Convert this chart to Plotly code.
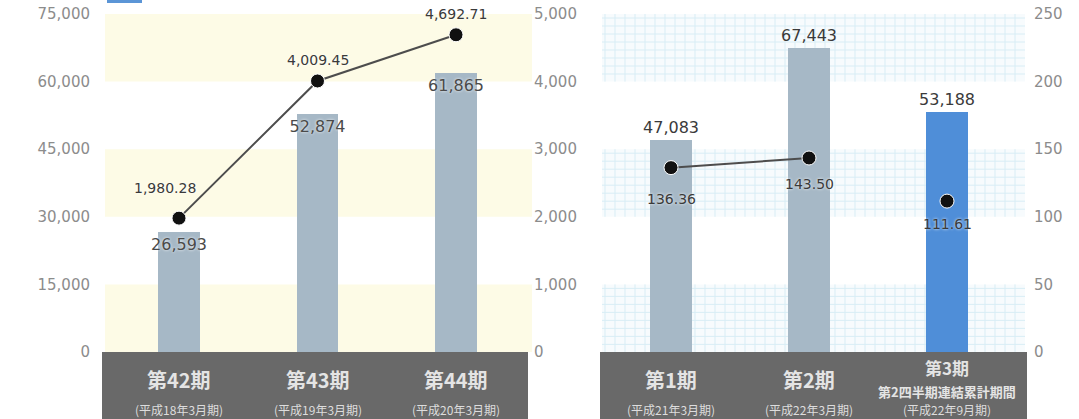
import plotly.graph_objects as go

# ---------------- data ----------------
left_periods = ["第42期", "第43期", "第44期"]
left_sub = ["(平成18年3月期)", "(平成19年3月期)", "(平成20年3月期)"]
left_bars = [26593, 52874, 61865]
left_line = [1980.28, 4009.45, 4692.71]

right_periods = ["第1期", "第2期", "第3期"]
right_mid = ["", "", "第2四半期連結累計期間"]
right_sub = ["(平成21年3月期)", "(平成22年3月期)", "(平成22年9月期)"]
right_bars = [47083, 67443, 53188]
right_line = [136.36, 143.50, 111.61]

bar_ticks = [0, 15000, 30000, 45000, 60000, 75000]
left_line_ticks = [0, 1000, 2000, 3000, 4000, 5000]
right_line_ticks = [0, 50, 100, 150, 200, 250]

# ---------------- layout helpers ----------------
W, H = 1079, 419
def PX(p):
    return p / W
def PY(p):
    return (H - p) / H

Y_BOTTOM, Y_TOP = 352, 14
ydom = [PY(Y_BOTTOM), PY(Y_TOP)]
L_DOM = [103, 530]
R_DOM = [600, 1027]
L_C0, L_STEP = 179, 138.5
R_C0, R_STEP = 671, 138.0

BAR_COLOR = "#a6b8c6"
BLUE = "#4f8ed8"
TICK_FONT = dict(family="DejaVu Sans, sans-serif", size=15, color="#8c8c8c")
NUM_FONT = "DejaVu Sans, sans-serif"
CJK = "Noto Sans CJK JP, sans-serif"
HALO = "0px 0px 3px #ffffff"

xl = list(range(3))

fig = go.Figure()

# left chart bars
fig.add_trace(go.Bar(
    x=xl, y=left_bars, xaxis="x", yaxis="y",
    marker=dict(color=BAR_COLOR, line=dict(width=0)), width=0.30,
    texttemplate="%{y:,}", textposition="inside", insidetextanchor="end",
    constraintext="none", textangle=0,
    textfont=dict(family=NUM_FONT, size=16, color="#4a4a4a", shadow=HALO),
    showlegend=False, hoverinfo="skip"))

# left chart line
fig.add_trace(go.Scatter(
    x=xl, y=left_line, xaxis="x", yaxis="y2", mode="lines+markers",
    line=dict(color="#4d4d4d", width=2),
    marker=dict(color="#111111", size=14, line=dict(color="#ffffff", width=1)),
    showlegend=False, hoverinfo="skip"))

# right chart bars
fig.add_trace(go.Bar(
    x=xl, y=right_bars, xaxis="x2", yaxis="y3",
    marker=dict(color=[BAR_COLOR, BAR_COLOR, BLUE], line=dict(width=0)), width=0.30,
    texttemplate="%{y:,}", textposition="outside", constraintext="none", textangle=0,
    cliponaxis=False,
    textfont=dict(family=NUM_FONT, size=16, color="#3a3a3a"),
    showlegend=False, hoverinfo="skip"))

# right chart line (first two connected, third standalone)
fig.add_trace(go.Scatter(
    x=xl[:2], y=right_line[:2], xaxis="x2", yaxis="y4", mode="lines+markers",
    line=dict(color="#4d4d4d", width=2),
    marker=dict(color="#111111", size=14, line=dict(color="#ffffff", width=1)),
    showlegend=False, hoverinfo="skip"))
fig.add_trace(go.Scatter(
    x=xl[2:], y=right_line[2:], xaxis="x2", yaxis="y4", mode="markers",
    marker=dict(color="#111111", size=14, line=dict(color="#ffffff", width=1)),
    showlegend=False, hoverinfo="skip"))

shapes = []
# left background bands (pale yellow alternating)
for i in range(0, 5, 2):
    shapes.append(dict(type="rect", xref="paper", yref="y",
                       x0=PX(105), x1=PX(532), y0=bar_ticks[i], y1=bar_ticks[i + 1],
                       fillcolor="#fdfbe6", line=dict(width=0), layer="below"))
# right background grid bands
for i in range(0, 5, 2):
    y0, y1 = bar_ticks[i], bar_ticks[i + 1]
    p_y0 = Y_BOTTOM - (y0 / 75000) * (Y_BOTTOM - Y_TOP)
    p_y1 = Y_BOTTOM - (y1 / 75000) * (Y_BOTTOM - Y_TOP)
    shapes.append(dict(type="rect", xref="paper", yref="paper",
                       x0=PX(602), x1=PX(1025), y0=PY(p_y0), y1=PY(p_y1),
                       fillcolor="#f7fbfd", line=dict(width=0), layer="below"))
    path = ""
    xx = 605
    while xx <= 1024:
        path += f"M{PX(xx):.5f},{PY(p_y0):.5f} L{PX(xx):.5f},{PY(p_y1):.5f} "
        xx += 10
    yy = p_y1 + 4
    while yy < p_y0:
        path += f"M{PX(602):.5f},{PY(yy):.5f} L{PX(1025):.5f},{PY(yy):.5f} "
        yy += 8
    shapes.append(dict(type="path", xref="paper", yref="paper", path=path,
                       line=dict(color="#d8edf5", width=1), layer="below"))

# dark category bands
shapes.append(dict(type="rect", xref="paper", yref="paper", x0=PX(102), x1=PX(528),
                   y0=0, y1=PY(Y_BOTTOM), fillcolor="#696969", line=dict(width=0)))
shapes.append(dict(type="rect", xref="paper", yref="paper", x0=PX(600), x1=PX(1027),
                   y0=0, y1=PY(Y_BOTTOM), fillcolor="#696969", line=dict(width=0)))
# legend fragment at top edge
shapes.append(dict(type="rect", xref="paper", yref="paper", x0=PX(107), x1=PX(142),
                   y0=PY(3), y1=1, fillcolor="#5b95d6", line=dict(width=0)))

annotations = []
# line value labels
left_shift = [(-14, 30), (0, 21), (0, 21)]
for i in range(3):
    annotations.append(dict(x=i, xref="x", y=left_line[i], yref="y2",
                            text=f"{left_line[i]:,.2f}", showarrow=False,
                            xshift=left_shift[i][0], yshift=left_shift[i][1],
                            font=dict(family=NUM_FONT, size=14, color="#3a3a3a", shadow=HALO)))
right_shift = [-31, -26, -23]
for i in range(3):
    annotations.append(dict(x=i, xref="x2", y=right_line[i], yref="y4",
                            text=f"{right_line[i]:.2f}", showarrow=False,
                            yshift=right_shift[i],
                            font=dict(family=NUM_FONT, size=14, color="#3a3a3a", shadow=HALO)))

# category labels in the dark bands
SUB_Y = 409
for i in range(3):
    annotations.append(dict(x=i, xref="x", y=PY(379), yref="paper", text=left_periods[i],
                            showarrow=False, yanchor="middle",
                            font=dict(family=CJK, size=20, color="#e4e4e4", weight="bold")))
    annotations.append(dict(x=i, xref="x", y=PY(SUB_Y), yref="paper", text=left_sub[i],
                            showarrow=False, yanchor="middle",
                            font=dict(family=CJK, size=12, color="#dddddd")))
for i in range(3):
    if right_mid[i]:
        annotations.append(dict(x=i, xref="x2", y=PY(367), yref="paper", text=right_periods[i],
                                showarrow=False, yanchor="middle",
                                font=dict(family=CJK, size=17, color="#e4e4e4", weight="bold")))
        annotations.append(dict(x=i, xref="x2", y=PY(391), yref="paper", text=right_mid[i],
                                showarrow=False, yanchor="middle",
                                font=dict(family=CJK, size=13, color="#e4e4e4", weight="bold")))
    else:
        annotations.append(dict(x=i, xref="x2", y=PY(379), yref="paper", text=right_periods[i],
                                showarrow=False, yanchor="middle",
                                font=dict(family=CJK, size=20, color="#e4e4e4", weight="bold")))
    annotations.append(dict(x=i, xref="x2", y=PY(SUB_Y), yref="paper", text=right_sub[i],
                            showarrow=False, yanchor="middle",
                            font=dict(family=CJK, size=12, color="#dddddd")))

l_range = [(L_DOM[0] - L_C0) / L_STEP, (L_DOM[1] - L_C0) / L_STEP]
r_range = [(R_DOM[0] - R_C0) / R_STEP, (R_DOM[1] - R_C0) / R_STEP]

common = dict(showgrid=False, zeroline=False, showline=False, ticks="", automargin=False)

fig.update_layout(
    width=W, height=H, margin=dict(l=0, r=0, t=0, b=0, autoexpand=False),
    paper_bgcolor="#ffffff", plot_bgcolor="rgba(0,0,0,0)",
    bargap=0,
    xaxis=dict(domain=[PX(L_DOM[0]), PX(L_DOM[1])], range=l_range, anchor="y",
               showticklabels=False, **common),
    xaxis2=dict(domain=[PX(R_DOM[0]), PX(R_DOM[1])], range=r_range, anchor="y3",
                showticklabels=False, **common),
    yaxis=dict(domain=ydom, range=[0, 75000], anchor="x", tickvals=bar_ticks,
               tickformat=",", tickfont=TICK_FONT, ticklabelstandoff=12, **common),
    yaxis2=dict(overlaying="y", side="right", range=[0, 5000], anchor="x",
                tickvals=left_line_ticks, tickformat=",", tickfont=TICK_FONT,
                ticklabelstandoff=3, **common),
    yaxis3=dict(domain=ydom, range=[0, 75000], anchor="x2", showticklabels=False, **common),
    yaxis4=dict(overlaying="y3", side="right", range=[0, 250], anchor="x2",
                tickvals=right_line_ticks, tickfont=TICK_FONT, ticklabelstandoff=6, **common),
    shapes=shapes, annotations=annotations,
)

fig.write_html("out.html")
